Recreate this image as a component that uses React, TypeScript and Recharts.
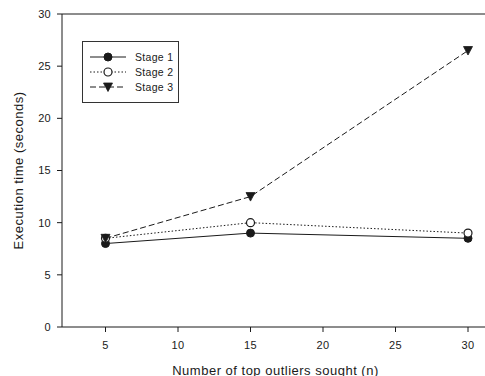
import React from "react";
import { LineChart, Line, XAxis, YAxis, Legend, ReferenceLine, Label } from "recharts";

const nValues = [5, 15, 30];
const stage1 = [8, 9, 8.5];
const stage2 = [8.5, 10, 9];
const stage3 = [8.5, 12.5, 26.5];
const xTicks = [5, 10, 15, 20, 25, 30];
const yTicks = [0, 5, 10, 15, 20, 25, 30];
const seriesNames = ["Stage 1", "Stage 2", "Stage 3"];

const data = nValues.map((n, i) => ({ n, s1: stage1[i], s2: stage2[i], s3: stage3[i] }));

const FONT = "'Liberation Sans', Arial, sans-serif";
const INK = "#1a1a1a";

const FilledDot = (p: any) => <circle cx={p.cx} cy={p.cy} r={4} fill={INK} stroke={INK} strokeWidth={1} />;
const OpenDot = (p: any) => <circle cx={p.cx} cy={p.cy} r={4} fill="#fff" stroke={INK} strokeWidth={1.2} />;
const TriDot = (p: any) => (
  <polygon
    points={`${p.cx - 4.5},${p.cy - 4} ${p.cx + 4.5},${p.cy - 4} ${p.cx},${p.cy + 4.5}`}
    fill={INK}
    stroke={INK}
    strokeWidth={0.8}
  />
);

const dashes = [undefined, "1.5 2", "6 3"];
const markers = [FilledDot, OpenDot, TriDot];

const LegendBox = () => (
  <div style={{ width: 97, height: 62, border: `1px solid #333`, boxSizing: "border-box", background: "#fff" }}>
    <svg width={95} height={60} style={{ display: "block" }}>
      {seriesNames.map((name, i) => {
        const y = 15 + i * 15;
        const M = markers[i];
        return (
          <g key={name}>
            <line x1={7} x2={43} y1={y} y2={y} stroke={INK} strokeWidth={1} strokeDasharray={dashes[i]} />
            <M cx={25} cy={y} />
            <text x={52} y={y + 4} fontSize={10.5} letterSpacing={0.3} fontFamily={FONT} fill={INK}>
              {name}
            </text>
          </g>
        );
      })}
    </svg>
  </div>
);

const YLabel = (props: any) => {
  const vb = props.viewBox;
  const cy = vb.y + vb.height / 2;
  return (
    <text x={18} y={cy} transform={`rotate(-90, 18, ${cy})`} textAnchor="middle" dominantBaseline="central" fontSize={13} letterSpacing={0.5} fontFamily={FONT} fill={INK}>
      Execution time (seconds)
    </text>
  );
};

const XLabel = (props: any) => {
  const vb = props.viewBox;
  const cx = vb.x + vb.width / 2;
  return (
    <text x={cx - 4} y={374.5} textAnchor="middle" fontSize={13} letterSpacing={0.5} fontFamily={FONT} fill={INK}>
      Number of top outliers sought (n)
    </text>
  );
};

export default function App() {
  return (
    <div style={{ position: "fixed", left: 0, top: 0, width: 485, height: 376, overflow: "hidden", background: "#fff" }}>
      <LineChart width={520} height={376} data={data} margin={{ top: 14, right: 23, bottom: 0, left: 0 }}>
        <XAxis
          dataKey="n"
          type="number"
          domain={[2, 32]}
          ticks={xTicks}
          allowDataOverflow
          height={49}
          tickSize={5}
          tickMargin={9}
          stroke={INK}
          tick={{ fontSize: 11, fontFamily: FONT, fill: INK, letterSpacing: 0.3 }}
        >
          <Label content={<XLabel />} />
        </XAxis>
        <YAxis
          type="number"
          domain={[0, 30]}
          ticks={yTicks}
          width={62}
          tickSize={5}
          tickMargin={6}
          stroke={INK}
          tick={{ fontSize: 11, fontFamily: FONT, fill: INK, letterSpacing: 0.3 }}
        >
          <Label content={<YLabel />} />
        </YAxis>
        <ReferenceLine y={30} stroke={INK} strokeWidth={1} />
        <Legend
          layout="horizontal"
          verticalAlign="middle"
          align="center"
          content={<LegendBox />}
          wrapperStyle={{ position: "absolute", left: 82, top: 41, width: 97, height: 62 }}
        />
        <Line dataKey="s1" name={seriesNames[0]} stroke={INK} strokeWidth={1} dot={<FilledDot />} isAnimationActive={false} />
        <Line dataKey="s2" name={seriesNames[1]} stroke={INK} strokeWidth={1} strokeDasharray={dashes[1]} dot={<OpenDot />} isAnimationActive={false} />
        <Line dataKey="s3" name={seriesNames[2]} stroke={INK} strokeWidth={1} strokeDasharray={dashes[2]} dot={<TriDot />} isAnimationActive={false} />
      </LineChart>
    </div>
  );
}
